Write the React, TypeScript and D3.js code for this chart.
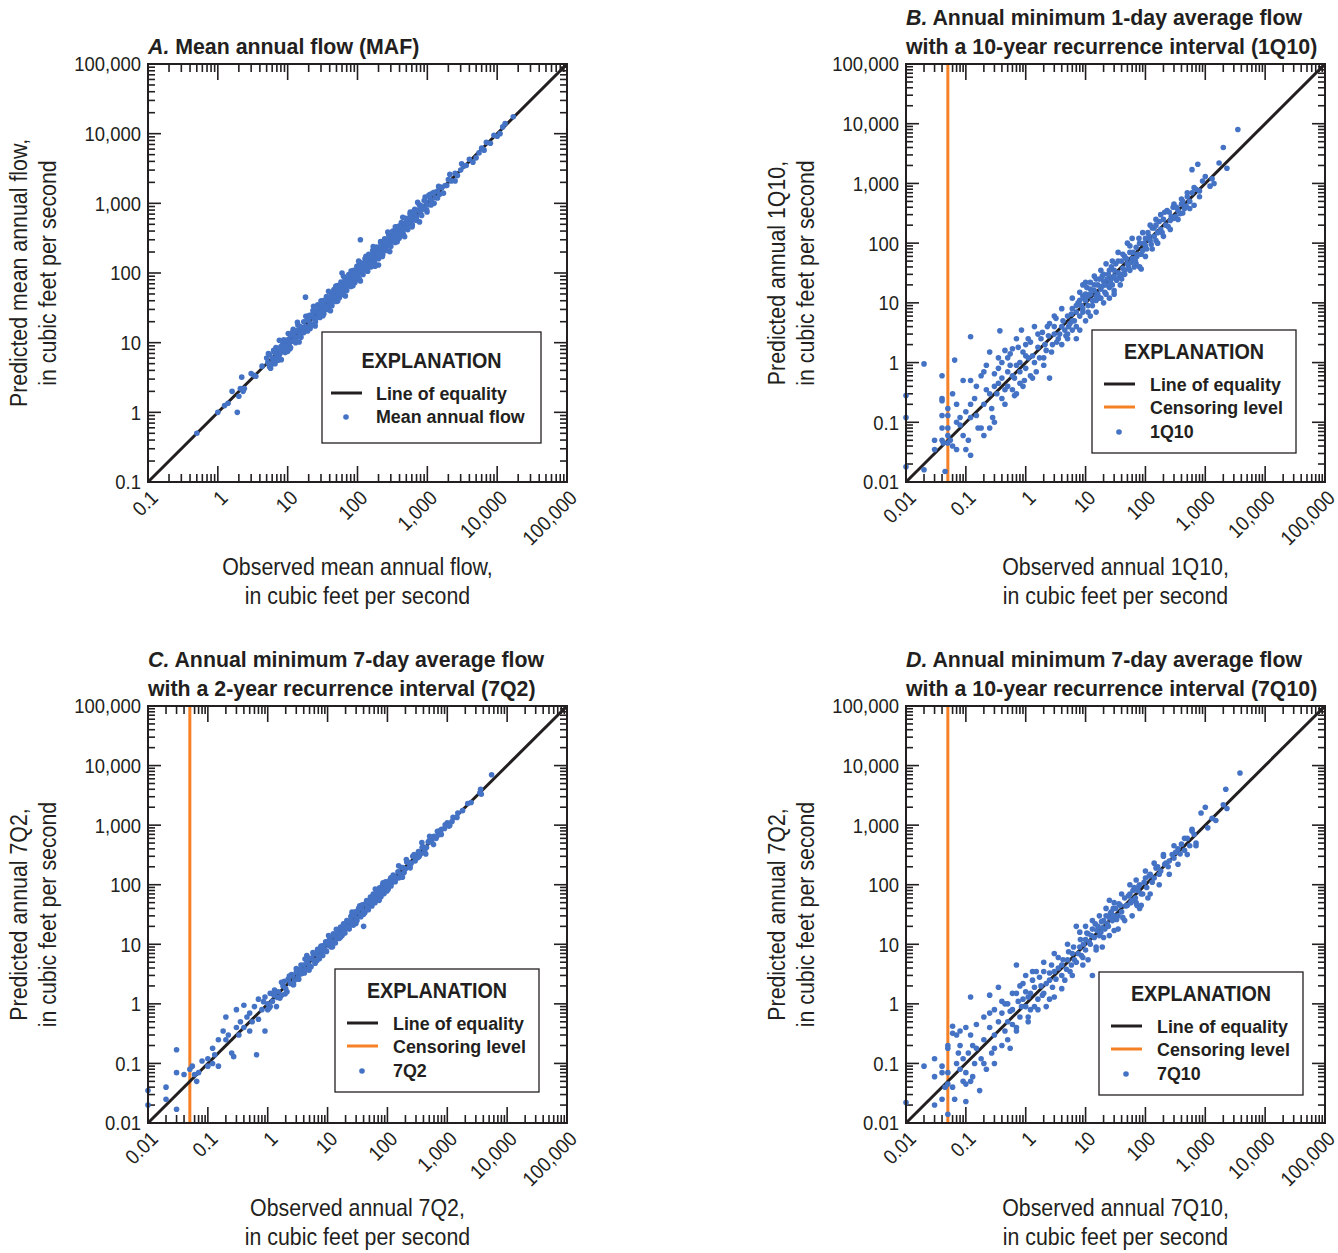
import React from "react";
import * as d3 from "d3";

const FONT = "'Liberation Sans', Arial, sans-serif";
const BLUE = "#4472c4";
const ORANGE = "#f58025";
const INK = "#231f20";

const decadeValues = [0.01, 0.1, 1, 10, 100, 1000, 10000, 100000];
const decadeLabels = ["0.01", "0.1", "1", "10", "100", "1,000", "10,000", "100,000"];
const censoringLevel = 0.05;

// [observed, predicted] pairs
const mafPoints: [number, number][] = [
  [0.5, 0.5], [1.0, 1.0], [1.25, 1.25], [1.4, 1.35], [1.6, 2.0], [1.9, 1.0], [2.0, 1.7], [2.1, 2.2],
  [2.2, 3.2], [2.3, 2.0], [2.4, 2.2], [3.0, 3.6], [3.3, 3.4], [3.5, 3.3], [4.3, 4.6],
  [5.0, 6.0], [5.2, 5.2], [5.5, 6.8], [5.5, 4.5], [5.8, 4.8], [6.0, 6.0], [6.2, 5.5], [6.3, 7.8],
  [6.5, 7.2], [6.6, 5.0], [6.8, 8.5], [7.0, 6.5], [7.2, 7.8], [7.3, 5.6], [7.5, 6.2], [7.8, 7.0],
  [8.0, 8.8], [8.2, 7.5], [8.5, 9.5], [8.8, 11], [9.0, 8.0], [9.2, 7.2], [9.5, 10.5], [9.8, 9.0],
  [10, 7.5], [10, 11], [10.5, 9.5], [11, 12.5], [11, 8.5], [11.5, 10.5], [12, 13], [12, 15.5],
  [12.5, 11], [13, 14.5], [13, 10], [13.5, 12], [14, 15], [14, 18], [15, 13.5], [15, 17], [15.5, 12],
  [16, 16], [16.5, 14], [17, 20], [17, 14], [18, 17], [18, 45], [19, 21], [19, 24], [19.5, 16.5],
  [20, 22], [21, 19], [21, 16], [22, 24], [22, 18], [23, 26], [23, 29], [24, 22], [25, 28], [25, 20],
  [26, 23], [27, 30], [27, 35], [28, 25], [29, 32], [29, 23], [30, 27], [31, 34], [31, 40], [32, 29],
  [33, 36], [33, 26], [35, 31], [36, 40], [36, 46], [37, 33], [38, 42], [38, 30], [40, 36], [41, 44],
  [41, 52], [42, 38], [43, 34], [44, 48], [45, 41], [46, 58], [47, 52], [48, 43], [49, 39], [50, 55],
  [52, 47], [52, 66], [54, 58], [55, 50], [55, 44], [57, 62], [58, 53], [58, 74], [60, 100], [60, 66],
  [62, 56], [62, 49], [64, 70], [66, 60], [66, 84], [68, 75], [70, 64], [70, 56], [72, 78], [74, 68],
  [75, 95], [76, 84], [78, 72], [80, 88], [80, 64], [82, 75], [85, 92], [86, 108], [88, 80], [90, 98],
  [92, 73], [93, 85], [95, 105], [98, 90], [98, 125],
  [100, 110], [100, 92], [105, 130], [105, 84], [108, 100], [110, 120], [110, 300], [112, 140],
  [115, 105], [120, 135], [120, 95], [125, 115], [128, 160], [130, 145], [135, 125], [136, 108],
  [140, 160], [145, 135], [145, 185], [150, 170], [155, 140], [155, 122], [160, 180], [165, 150],
  [165, 210], [170, 195], [175, 160], [176, 140], [180, 200], [185, 170], [188, 235], [190, 215],
  [200, 130], [200, 185], [200, 160], [205, 225], [210, 195], [215, 270], [220, 245], [230, 210],
  [230, 185], [240, 265], [245, 310], [250, 230], [260, 290], [262, 210], [270, 250], [280, 310],
  [280, 350], [290, 265], [300, 330], [300, 240], [310, 280], [320, 350], [320, 400], [330, 300],
  [340, 380], [345, 275], [350, 320], [360, 400], [370, 460], [380, 350], [395, 315], [400, 440],
  [420, 385], [425, 530], [440, 470], [455, 360], [460, 420], [480, 520], [490, 610], [500, 460],
  [520, 570], [525, 420], [540, 500], [560, 620], [565, 700], [580, 540], [600, 650], [610, 490],
  [630, 580], [660, 700], [660, 820], [700, 640], [710, 570], [740, 800], [770, 950], [800, 930],
  [800, 720], [830, 670], [850, 900], [900, 830], [900, 1100], [950, 1050], [980, 800], [1000, 950],
  [1050, 1300], [1100, 1150], [1100, 1350], [1150, 1050], [1200, 1400], [1250, 1000], [1300, 1200],
  [1400, 1500], [1450, 1750], [1500, 1350], [1600, 1700], [1700, 1400], [1800, 1800], [2000, 2200],
  [2100, 2600], [2200, 2100], [2500, 2700], [2500, 2100], [2700, 2500], [3000, 3000], [3100, 3700],
  [3300, 3400], [3600, 3500], [4000, 4300], [4500, 3900], [5000, 4500], [5500, 5300], [6000, 6200],
  [6500, 5800], [7000, 7500], [8000, 7300], [9000, 9500], [10000, 9200], [11000, 10000],
  [12000, 12500], [13000, 14000], [17000, 17500],
  [5.3, 7.0], [5.7, 4.3], [6.4, 7.7], [6.9, 5.8], [7.6, 10.8], [8.1, 5.7], [8.7, 9.1], [9.4, 8.9],
  [10.2, 13.5], [10.8, 8.2], [11.8, 14.2], [12.7, 10.7], [13.8, 19.6], [14.6, 10.2], [15.8, 16.6],
  [16.8, 16], [18.2, 24], [19.3, 14.7], [20.6, 24.7], [21.8, 18.3], [23.5, 33.4], [24.8, 17.4],
  [26.4, 27.7], [28, 26.6], [30, 39.6], [32, 24.3], [34, 40.8], [36, 30.2], [38.5, 54.7], [41, 28.7],
  [44, 46.2], [46.5, 44.2], [49, 64.7], [52, 39.5], [56, 67.2], [59, 49.6], [63, 89.5], [67, 46.9],
  [71, 74.6], [76, 72.2], [81, 107], [86, 65.4], [92, 110], [97, 81.5], [104, 148], [110, 77],
  [117, 123], [124, 118], [132, 174], [140, 106], [149, 179], [158, 133], [168, 239], [178, 125],
  [190, 200], [201, 191], [214, 282], [227, 173], [242, 290], [256, 215], [272, 386], [290, 203],
  [308, 323], [327, 311], [348, 459], [370, 281], [393, 472], [418, 351], [445, 632], [473, 331],
  [503, 528], [535, 508], [569, 751], [605, 460], [643, 772], [684, 575], [727, 1032], [773, 541],
  [822, 863], [875, 831], [930, 1228], [990, 752], [1060, 1272], [1130, 949], [1250, 1438],
  [1400, 1190], [1600, 1680], [1900, 1805],
];

const q110Points: [number, number][] = [
  [0.01, 0.28], [0.01, 0.12], [0.01, 0.018], [0.02, 0.95], [0.02, 0.016], [0.03, 0.05], [0.03, 0.035],
  [0.04, 0.6], [0.04, 0.25], [0.04, 0.23], [0.04, 0.13], [0.04, 0.08], [0.04, 0.05], [0.042, 0.045],
  [0.045, 0.015], [0.05, 0.17], [0.05, 0.13], [0.05, 0.08], [0.05, 0.06], [0.05, 0.045], [0.055, 0.05],
  [0.06, 0.3], [0.06, 0.04], [0.065, 1.1], [0.07, 0.2], [0.07, 0.1], [0.07, 0.035], [0.08, 0.12],
  [0.08, 0.09], [0.09, 0.5], [0.09, 0.06], [0.1, 0.15], [0.1, 0.035], [0.11, 0.05], [0.12, 2.7],
  [0.12, 0.5], [0.12, 0.2], [0.12, 0.12], [0.12, 0.028], [0.14, 0.25], [0.15, 0.13], [0.15, 0.4],
  [0.16, 0.08], [0.18, 0.6], [0.18, 0.08], [0.2, 0.7], [0.2, 0.2], [0.2, 0.06], [0.22, 0.35],
  [0.22, 0.9], [0.25, 1.5], [0.25, 0.3], [0.25, 0.08], [0.27, 0.17], [0.28, 0.12], [0.3, 0.65],
  [0.3, 0.4], [0.3, 0.1], [0.33, 0.3], [0.35, 0.8], [0.35, 0.45], [0.35, 1.2], [0.37, 3.4], [0.4, 1.0],
  [0.4, 0.55], [0.4, 0.25], [0.45, 0.35], [0.45, 1.6], [0.45, 0.2], [0.5, 0.7], [0.5, 0.4], [0.5, 1.2],
  [0.55, 0.9], [0.55, 1.4], [0.6, 0.35], [0.6, 1.7], [0.6, 0.6], [0.65, 0.55], [0.65, 0.28],
  [0.7, 0.3], [0.7, 2.5], [0.7, 0.9], [0.75, 1.8], [0.8, 1.0], [0.8, 0.7], [0.8, 0.45], [0.85, 3.5],
  [0.9, 0.4], [0.9, 1.5], [0.95, 0.5], [1.0, 0.8], [1.0, 2.0], [1.0, 1.3], [1.1, 1.2], [1.1, 2.5],
  [1.2, 0.6], [1.2, 2.2], [1.3, 1.3], [1.3, 0.55], [1.4, 4.0], [1.4, 1.0], [1.5, 0.7], [1.6, 1.8],
  [1.6, 3], [1.7, 1.2], [1.8, 2.5], [1.9, 3.2], [2.0, 1.2], [2.0, 0.9], [2.1, 2.0], [2.2, 1.6],
  [2.3, 4], [2.4, 2.8], [2.5, 4.5], [2.5, 0.55], [2.7, 1.5], [2.8, 2.0], [3, 3.0], [3, 4], [3, 6],
  [3.2, 5.5], [3.3, 2.2], [3.5, 2.5], [3.7, 3], [4, 4.0], [4, 2.0], [4, 8], [4.2, 5], [4.5, 3.5],
  [4.7, 2.8], [5, 6.0], [5, 3.0], [5, 2.5], [5.2, 4.0], [5.5, 4.5], [5.8, 6.5], [6, 8], [6, 3.5],
  [6, 5], [6, 12], [6.5, 5], [7, 2.5], [7, 7], [7, 9], [7, 4], [7.5, 10], [8, 6], [8, 15], [8, 11],
  [8, 3.5], [8.5, 9], [9, 8], [9, 7], [9, 13], [9, 20], [9.5, 12], [10, 5], [10, 11], [10, 14],
  [10, 22], [10.5, 18], [11, 9], [11, 7], [11, 13], [12, 14], [12, 22], [12, 17], [12, 6], [13, 11],
  [13, 9], [14, 16], [14, 20], [14, 28], [15, 13], [15, 25], [15, 11], [15, 7], [16, 20], [16, 14],
  [17, 12], [17, 25], [18, 17], [18, 12], [18, 35], [19, 28], [19, 19], [20, 23], [20, 30], [20, 10],
  [21, 15], [22, 20], [22, 14], [22, 45], [23, 25], [24, 30], [25, 35], [25, 18], [25, 12], [26, 22],
  [27, 40], [28, 26], [28, 20], [28, 50], [30, 16], [30, 28], [30, 35], [30, 14], [32, 45], [33, 24],
  [35, 32], [35, 50], [35, 70], [37, 27], [38, 20], [40, 50], [40, 30], [40, 25], [42, 38], [42, 65],
  [45, 60], [45, 35], [45, 30], [48, 55], [50, 45], [50, 100], [52, 40], [55, 70], [55, 90], [55, 35],
  [58, 48], [60, 55], [60, 120], [62, 70], [65, 40], [68, 50], [70, 85], [70, 45], [72, 60], [75, 65],
  [78, 120], [80, 100], [80, 40], [85, 37], [85, 65], [90, 75], [90, 150], [95, 100], [100, 120],
  [100, 90], [100, 60], [105, 80], [110, 150], [115, 130], [120, 110], [120, 200], [125, 95],
  [130, 180], [130, 80], [140, 130], [140, 180], [150, 200], [150, 110], [150, 250], [160, 150],
  [160, 100], [170, 230], [180, 170], [180, 300], [190, 150], [200, 250], [200, 130], [210, 330],
  [220, 200], [230, 350], [240, 190], [250, 330], [260, 240], [260, 170], [270, 280], [290, 400],
  [300, 260], [300, 450], [320, 280], [330, 400], [350, 350], [350, 250], [380, 310], [400, 450],
  [400, 550], [420, 500], [420, 320], [450, 380], [480, 420], [500, 600], [500, 700], [550, 500],
  [550, 380], [600, 700], [600, 1700], [650, 430], [650, 850], [700, 800], [750, 2100], [800, 750],
  [800, 600], [900, 1100], [1000, 1300], [1200, 900], [1300, 1200], [1400, 1000], [1700, 2200],
  [2000, 4000], [2300, 1800], [3500, 8000],
];

const q72Points: [number, number][] = [
  [0.01, 0.035], [0.01, 0.02], [0.02, 0.04], [0.02, 0.025], [0.03, 0.17], [0.03, 0.07], [0.03, 0.017],
  [0.04, 0.065], [0.05, 0.08], [0.055, 0.09], [0.06, 0.065], [0.065, 0.05], [0.07, 0.07], [0.08, 0.11],
  [0.1, 0.12], [0.1, 0.09], [0.12, 0.18], [0.12, 0.1], [0.13, 0.14], [0.15, 0.25], [0.15, 0.09],
  [0.18, 0.35], [0.2, 0.6], [0.2, 0.25], [0.22, 0.3], [0.25, 0.15], [0.27, 0.13], [0.3, 0.4],
  [0.3, 0.8], [0.33, 0.3], [0.35, 0.5], [0.4, 0.95], [0.4, 0.4], [0.45, 0.6], [0.5, 0.7], [0.5, 0.35],
  [0.55, 0.5], [0.6, 0.9], [0.65, 0.14], [0.7, 0.55], [0.7, 1.2], [0.8, 0.8], [0.9, 0.35], [0.9, 1.3],
  [1.0, 1.0], [1.0, 0.8], [1.1, 1.5], [1.1, 0.9], [1.2, 1.1], [1.3, 1.4], [1.3, 1.7], [1.4, 0.9],
  [1.5, 1.6], [1.6, 1.25], [1.7, 1.4], [1.8, 2.0], [1.9, 2.4], [2, 1.8], [2.1, 1.6], [2.2, 2.6],
  [2.4, 2.2], [2.5, 3.1], [2.6, 3.0], [2.7, 2.1], [2.8, 2.5], [3, 3.4], [3, 3.9], [3.2, 2.8],
  [3.3, 2.6], [3.5, 3.8], [3.6, 4.5], [3.8, 3.3], [4, 4.5], [4.1, 3.3], [4.3, 3.8], [4.5, 6.5],
  [4.5, 5.2], [4.7, 4.8], [5, 4.4], [5, 5.8], [5.3, 4.2], [5.5, 5.8], [5.8, 6.9], [6, 5.2], [6.2, 4.8],
  [6.5, 7], [6.8, 8.2], [7, 6.2], [7.3, 5.7], [7.5, 8], [7.8, 9.3], [8, 7.2], [8.3, 6.5], [8.5, 9.5],
  [9, 8], [9.3, 11], [9.6, 7.6], [10, 11], [10.5, 9.5], [10.8, 13], [11, 12.5], [11.5, 9], [12, 11],
  [12.5, 15], [13, 14], [13.5, 10.5], [14, 12.5], [14.5, 17], [15, 16], [15.5, 12.5], [16, 14],
  [16.5, 19.5], [17, 19], [17.5, 14], [18, 16], [18.5, 22], [19, 21], [19.5, 15.5], [20, 18],
  [21, 25], [22, 24], [23, 18], [24, 21], [24.5, 29], [25, 30], [26, 24], [27, 21], [28, 31], [29, 35],
  [30, 27], [31, 25], [32, 35], [33, 40], [35, 31], [36, 29], [37, 40], [38, 46], [40, 20], [40, 36],
  [42, 34], [43, 48], [45, 54], [46, 42], [48, 38], [50, 55], [52, 62], [53, 48], [55, 44], [56, 62],
  [58, 70], [60, 54], [62, 50], [64, 70], [66, 79], [68, 62], [70, 56], [72, 80], [74, 89], [76, 70],
  [78, 63], [80, 88], [83, 100], [85, 78], [88, 71], [90, 100], [93, 112], [95, 86], [100, 110],
  [103, 84], [105, 95], [110, 120], [115, 95], [120, 110], [125, 145], [130, 140], [135, 112],
  [140, 130], [150, 165], [155, 130], [165, 150], [170, 195], [180, 195], [190, 160], [200, 185],
  [210, 240], [220, 240], [235, 200], [250, 230], [265, 300], [280, 300], [290, 250], [300, 280],
  [330, 360], [340, 300], [360, 330], [380, 420], [400, 430], [420, 370], [450, 420], [480, 520],
  [500, 550], [550, 520], [580, 620], [600, 650], [650, 600], [700, 680], [750, 800], [800, 850],
  [900, 880], [1000, 1100], [1100, 1000], [1200, 1150], [1500, 1600], [1800, 1750], [2200, 2300],
  [2500, 2400], [3500, 3500], [3600, 4000], [3700, 3300], [5500, 7000],
  [0.85, 1.09], [1.05, 0.84], [1.25, 1.44], [1.45, 1.28], [1.7, 2.3], [1.95, 1.46], [2.3, 2.94],
  [2.65, 2.12], [3.1, 3.57], [3.6, 3.17], [4.2, 5.67], [4.9, 3.68], [5.7, 7.3], [6.6, 5.28],
  [7.7, 8.86], [9, 7.92], [10.4, 14], [12.1, 9.1], [14, 17.9], [16.3, 13], [19, 21.9], [22, 19.4],
  [25.6, 34.6], [29.7, 22.3], [34.5, 44.2], [40, 32], [46.5, 53.5], [54, 47.5], [62.7, 84.6],
  [72.8, 54.6], [84.5, 108], [98, 78.4], [114, 131], [132, 116], [154, 208], [178, 134], [207, 265],
  [240, 192], [279, 321], [324, 285], [376, 508], [437, 328], [507, 649], [589, 471], [684, 787],
  [794, 699], [922, 1014], [1070, 963], [1250, 1350], [1450, 1349],
];

const q710Points: [number, number][] = [
  [0.01, 0.022], [0.02, 0.09], [0.03, 0.02], [0.03, 0.06], [0.03, 0.12], [0.04, 0.025], [0.04, 0.09],
  [0.04, 0.07], [0.045, 0.04], [0.05, 0.2], [0.05, 0.18], [0.05, 0.07], [0.05, 0.045], [0.05, 0.014],
  [0.06, 0.04], [0.06, 0.42], [0.06, 0.32], [0.065, 0.025], [0.07, 0.1], [0.07, 0.3], [0.075, 0.15],
  [0.08, 0.08], [0.08, 0.35], [0.08, 0.2], [0.09, 0.05], [0.09, 0.12], [0.1, 0.023], [0.1, 0.4],
  [0.1, 0.07], [0.1, 0.045], [0.11, 0.15], [0.12, 0.05], [0.12, 1.3], [0.12, 0.3], [0.13, 0.2],
  [0.13, 0.06], [0.14, 0.1], [0.15, 0.18], [0.15, 0.45], [0.17, 0.035], [0.18, 0.12], [0.2, 0.6],
  [0.2, 0.25], [0.2, 0.1], [0.22, 0.08], [0.25, 1.4], [0.25, 0.4], [0.25, 0.7], [0.27, 0.15],
  [0.3, 0.8], [0.3, 0.3], [0.3, 0.1], [0.3, 0.18], [0.35, 1.9], [0.35, 0.5], [0.4, 0.2], [0.4, 0.7],
  [0.4, 1.1], [0.45, 0.35], [0.45, 1.0], [0.5, 1.0], [0.5, 0.5], [0.5, 0.25], [0.55, 0.18],
  [0.55, 0.75], [0.6, 0.8], [0.6, 0.45], [0.6, 1.5], [0.7, 4.5], [0.7, 1.5], [0.7, 0.4], [0.7, 0.35],
  [0.75, 1.1], [0.8, 0.6], [0.8, 2.0], [0.85, 0.9], [0.9, 1.2], [0.9, 2.2], [1.0, 0.9], [1.0, 3.0],
  [1.0, 1.6], [1.1, 0.5], [1.1, 1.3], [1.1, 0.6], [1.2, 1.5], [1.2, 0.8], [1.3, 2.5], [1.3, 3.5],
  [1.4, 0.9], [1.4, 1.9], [1.5, 3.5], [1.6, 1.2], [1.6, 0.8], [1.7, 2.8], [1.8, 2.0], [1.9, 1.4],
  [2, 5], [2, 1.5], [2, 3.5], [2.2, 0.9], [2.2, 2.2], [2.5, 2.5], [2.5, 3.3], [2.5, 1.2], [2.7, 4.5],
  [2.8, 1.9], [3, 3.5], [3, 1.3], [3, 7], [3.2, 2.6], [3.5, 6], [3.5, 4.0], [4, 3], [4, 4.5], [4, 1.8],
  [4.2, 5.5], [4.5, 2.5], [4.8, 3.8], [5, 5.5], [5, 10], [5.2, 7.5], [5.5, 3.5], [5.8, 4.5], [6, 7],
  [6, 3], [6.3, 9], [6.5, 5.5], [7, 5], [7, 20], [7.5, 7], [8, 9], [8, 16], [8.2, 12], [8.5, 6.5],
  [9, 6], [9, 4.5], [9.2, 10], [10, 12], [10, 8], [10, 20], [10.5, 15.5], [11, 15], [11, 5.5],
  [11.5, 11], [12, 10], [12.5, 14], [13, 3], [13, 18], [13, 25], [14, 13], [14.5, 22], [15, 9],
  [15, 8], [15.5, 17], [16, 20], [17, 14], [17, 30], [18, 16], [18.5, 24], [19, 19], [19, 9], [20, 25],
  [20, 13], [21, 18], [22, 30], [22, 40], [23, 22], [24, 20], [25, 55], [25, 28], [25, 14], [26, 33],
  [27, 35], [28, 25], [29, 40], [30, 17], [30, 30], [30, 50], [32, 40], [33, 26], [35, 30], [35, 18],
  [36, 48], [38, 45], [40, 35], [40, 70], [42, 28], [45, 60], [45, 25], [47, 44], [50, 45], [52, 65],
  [55, 70], [55, 100], [57, 50], [60, 55], [60, 30], [62, 80], [65, 90], [68, 60], [70, 50],
  [70, 120], [72, 45], [75, 80], [78, 95], [80, 100], [80, 40], [85, 45], [85, 70], [90, 70],
  [95, 110], [100, 130], [100, 170], [105, 90], [110, 60], [115, 140], [120, 150], [120, 70],
  [130, 110], [140, 130], [140, 230], [150, 190], [160, 200], [170, 150], [170, 100], [180, 170],
  [200, 300], [200, 320], [210, 220], [220, 230], [240, 200], [250, 250], [250, 150], [280, 320],
  [300, 280], [300, 450], [320, 350], [350, 400], [350, 220], [380, 330], [400, 480], [450, 380],
  [450, 600], [500, 600], [500, 320], [550, 450], [600, 800], [600, 850], [650, 700], [700, 500],
  [700, 450], [850, 1600], [1000, 2000], [1100, 900], [1300, 1300], [1500, 1200], [2000, 2200],
  [2200, 4000], [2300, 1900], [3800, 7500],
];

type Legend = { left: number; top: number; width: number; height: number; headY: number; rowY: number[] };

type PanelCfg = {
  left: number;
  top: number;
  width: number;
  height: number;
  min: number;
  letter: string;
  title: string[];
  xTitle: string;
  yTitle: string;
  label: string;
  censor: boolean;
  points: [number, number][];
  legend: Legend;
};

const panels: PanelCfg[] = [
  {
    left: 148, top: 64, width: 419, height: 418, min: 0.1, letter: "A.",
    title: ["Mean annual flow (MAF)"],
    xTitle: "Observed mean annual flow,", yTitle: "Predicted mean annual flow,",
    label: "Mean annual flow", censor: false, points: mafPoints,
    legend: { left: 322, top: 332, width: 219, height: 111, headY: 36, rowY: [68, 91] },
  },
  {
    left: 906, top: 64, width: 419, height: 418, min: 0.01, letter: "B.",
    title: ["Annual minimum 1-day average flow", "with a 10-year recurrence interval (1Q10)"],
    xTitle: "Observed annual 1Q10,", yTitle: "Predicted annual 1Q10,",
    label: "1Q10", censor: true, points: q110Points,
    legend: { left: 1092, top: 330, width: 204, height: 123, headY: 29, rowY: [61, 84, 108] },
  },
  {
    left: 148, top: 706, width: 419, height: 417, min: 0.01, letter: "C.",
    title: ["Annual minimum 7-day average flow", "with a 2-year recurrence interval (7Q2)"],
    xTitle: "Observed annual 7Q2,", yTitle: "Predicted annual 7Q2,",
    label: "7Q2", censor: true, points: q72Points,
    legend: { left: 335, top: 969, width: 204, height: 123, headY: 29, rowY: [61, 84, 108] },
  },
  {
    left: 906, top: 706, width: 419, height: 417, min: 0.01, letter: "D.",
    title: ["Annual minimum 7-day average flow", "with a 10-year recurrence interval (7Q10)"],
    xTitle: "Observed annual 7Q10,", yTitle: "Predicted annual 7Q2,",
    label: "7Q10", censor: true, points: q710Points,
    legend: { left: 1099, top: 972, width: 204, height: 123, headY: 29, rowY: [61, 84, 108] },
  },
];

// narrow text: the original face is a condensed sans, so squeeze a regular one
function T({ x, y, size, sx = 0.9, anchor = "start", bold = false, rotate = 0, dy, children }: any) {
  return (
    <text
      transform={`translate(${x},${y}) rotate(${rotate}) scale(${sx},1)`}
      textAnchor={anchor}
      fontSize={size}
      fontWeight={bold ? "bold" : "normal"}
      dy={dy}
    >
      {children}
    </text>
  );
}

function Panel({ p }: { p: PanelCfg }) {
  const max = 100000;
  const x = d3.scaleLog().domain([p.min, max]).range([p.left, p.left + p.width]);
  const y = d3.scaleLog().domain([p.min, max]).range([p.top + p.height, p.top]);
  const right = p.left + p.width;
  const bottom = p.top + p.height;

  const majors = decadeValues.filter((v) => v >= p.min - 1e-9);
  const minors: number[] = [];
  majors.slice(0, -1).forEach((d) => {
    for (let m = 2; m <= 9; m++) minors.push(d * m);
  });
  const labelOf = (v: number) => decadeLabels[decadeValues.indexOf(v)];

  const lg = p.legend;
  const cx = (p.left + right) / 2;
  const cy = (p.top + bottom) / 2;

  const items = p.censor
    ? [["line", "Line of equality"], ["censor", "Censoring level"], ["dot", p.label]]
    : [["line", "Line of equality"], ["dot", p.label]];
  const sx = p.censor ? 12 : 9;
  const tx = p.censor ? 58 : 54;

  return (
    <g fontFamily={FONT} fill={INK}>
      {/* title */}
      {p.title.map((t, i) => (
        <T key={i} x={p.left} y={p.top - 10 - (p.title.length - 1 - i) * 29} size={22} sx={0.97} bold>
          {i === 0 && <tspan fontStyle="italic">{p.letter}</tspan>}
          {i === 0 ? " " + t : t}
        </T>
      ))}

      {/* ticks, all four sides, pointing in */}
      <g stroke={INK} strokeWidth={1.6}>
        {minors.map((v) => (
          <g key={"m" + v}>
            <line x1={x(v)} x2={x(v)} y1={bottom} y2={bottom - 8} />
            <line x1={x(v)} x2={x(v)} y1={p.top} y2={p.top + 8} />
            <line x1={p.left} x2={p.left + 7} y1={y(v)} y2={y(v)} />
            <line x1={right} x2={right - 7} y1={y(v)} y2={y(v)} />
          </g>
        ))}
        {majors.map((v) => (
          <g key={"M" + v}>
            <line x1={x(v)} x2={x(v)} y1={bottom} y2={bottom - 16} />
            <line x1={x(v)} x2={x(v)} y1={p.top} y2={p.top + 16} />
            <line x1={p.left} x2={p.left + 13} y1={y(v)} y2={y(v)} />
            <line x1={right} x2={right - 13} y1={y(v)} y2={y(v)} />
          </g>
        ))}
      </g>

      {/* tick labels */}
      {majors.map((v) => (
        <T key={"yl" + v} x={p.left - 7} y={y(v)} dy="0.36em" anchor="end" size={20.5} sx={0.9}>
          {labelOf(v)}
        </T>
      ))}
      {majors.map((v) => (
        <T key={"xl" + v} x={x(v) + 6} y={bottom + 12} dy="0.36em" anchor="end" size={20.5} sx={0.9} rotate={-45}>
          {labelOf(v)}
        </T>
      ))}

      {/* axis titles */}
      <T x={cx} y={bottom + 93} anchor="middle" size={24} sx={0.89}>{p.xTitle}</T>
      <T x={cx} y={bottom + 122} anchor="middle" size={24} sx={0.89}>in cubic feet per second</T>
      <T x={p.left - 121} y={cy} anchor="middle" size={24} sx={0.89} rotate={-90}>{p.yTitle}</T>
      <T x={p.left - 92} y={cy} anchor="middle" size={24} sx={0.89} rotate={-90}>in cubic feet per second</T>

      {/* censoring level */}
      {p.censor && (
        <line x1={x(censoringLevel)} x2={x(censoringLevel)} y1={p.top} y2={bottom} stroke={ORANGE} strokeWidth={3} />
      )}

      {/* line of equality */}
      <line x1={x(p.min)} y1={y(p.min)} x2={x(max)} y2={y(max)} stroke={INK} strokeWidth={3} />

      {/* points */}
      <g fill={BLUE}>
        {p.points.map(([o, pr], i) => (
          <circle key={i} cx={x(o)} cy={y(pr)} r={2.8} />
        ))}
      </g>

      {/* frame */}
      <rect x={p.left} y={p.top} width={p.width} height={p.height} fill="none" stroke={INK} strokeWidth={2} />

      {/* legend */}
      <rect x={lg.left} y={lg.top} width={lg.width} height={lg.height} fill="#fff" stroke={INK} strokeWidth={1.3} />
      <T x={lg.left + lg.width / 2} y={lg.top + lg.headY} anchor="middle" size={21.5} sx={0.92} bold>
        EXPLANATION
      </T>
      {items.map(([kind, text], i) => {
        const by = lg.top + lg.rowY[i];
        return (
          <g key={text}>
            {kind === "line" && (
              <line x1={lg.left + sx} x2={lg.left + sx + 31} y1={by - 7} y2={by - 7} stroke={INK} strokeWidth={3} />
            )}
            {kind === "censor" && (
              <line x1={lg.left + sx} x2={lg.left + sx + 31} y1={by - 7} y2={by - 7} stroke={ORANGE} strokeWidth={3} />
            )}
            {kind === "dot" && <circle cx={lg.left + sx + 15} cy={by - 6} r={2.8} fill={BLUE} />}
            <T x={lg.left + tx} y={by} size={19} sx={0.94} bold>{text}</T>
          </g>
        );
      })}
    </g>
  );
}

export default function App() {
  return (
    <svg width={1338} height={1253} style={{ position: "absolute", left: 0, top: 0, background: "#fff" }}>
      {panels.map((p) => (
        <Panel key={p.letter} p={p} />
      ))}
    </svg>
  );
}
